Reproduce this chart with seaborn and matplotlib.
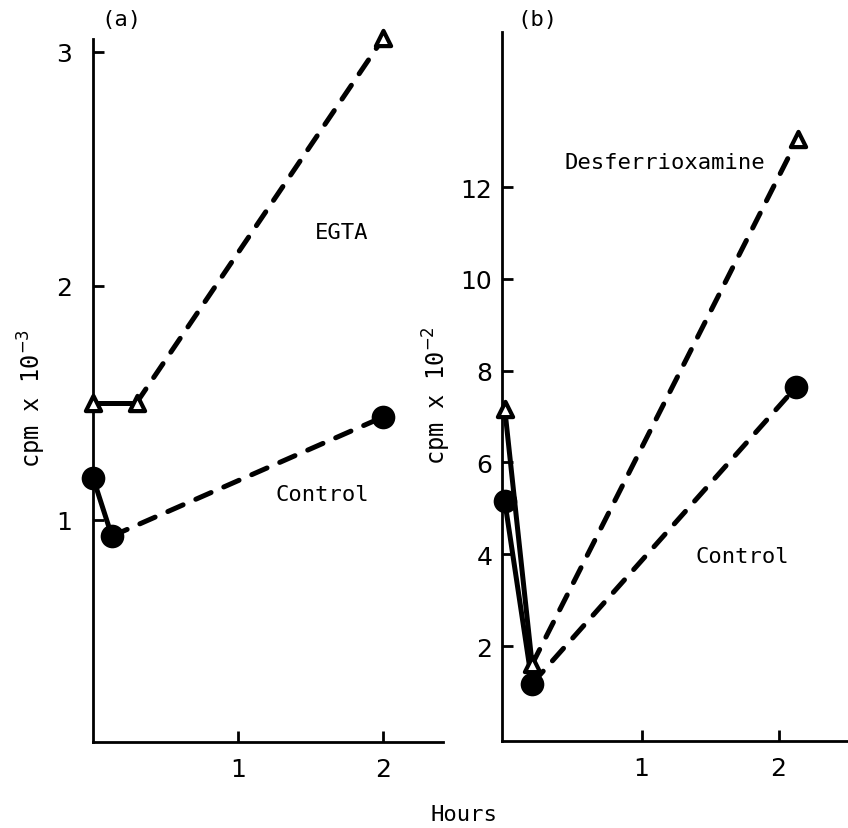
import numpy as np
import pandas as pd
import matplotlib
matplotlib.use("Agg")
import matplotlib.pyplot as plt
import seaborn as sns

# ---- data ----
hours_a_ctrl = [0.0, 0.13, 2.0]
cpm_a_ctrl = [1.18, 0.93, 1.44]
hours_a_egta = [0.0, 0.30, 2.0]
cpm_a_egta = [1.50, 1.50, 3.06]

hours_b_ctrl = [0.0, 0.20, 2.13]
cpm_b_ctrl = [5.16, 1.18, 7.65]
hours_b_des = [0.0, 0.20, 2.14]
cpm_b_des = [7.17, 1.60, 13.05]

yticks_a = [1, 2, 3]
yticks_b = [2, 4, 6, 8, 10, 12]
xticks = [1, 2]

sns.set_theme(style="white")
plt.rcParams['font.family'] = ['DejaVu Sans Mono']
plt.rcParams['text.color'] = 'black'
plt.rcParams['lines.scale_dashes'] = False
TICKFONT = ['DejaVu Sans']

fig = plt.figure(figsize=(8.48, 8.29), dpi=100)
W, H = 848, 829

def fr(x0, y0, x1, y1):
    return [x0 / W, 1 - y1 / H, (x1 - x0) / W, (y1 - y0) / H]

ax_a = fig.add_axes(fr(93, 40, 443, 743))
ax_b = fig.add_axes(fr(502, 33, 847, 742))

LW = 3.6
DASH = (12.0, 10.0)

def draw_series(ax, xs, ys, filled):
    df = pd.DataFrame({"h": xs, "c": ys})
    sns.lineplot(data=df.iloc[:2], x="h", y="c", ax=ax, color="black",
                 lw=LW, sort=False, estimator=None)
    ax.lines[-1].set_solid_capstyle('round')
    sns.lineplot(data=df.iloc[1:], x="h", y="c", ax=ax, color="black",
                 lw=LW, sort=False, estimator=None)
    ax.lines[-1].set_dashes(DASH)
    ax.lines[-1].set_dash_capstyle('round')
    if filled:
        sns.scatterplot(data=df, x="h", y="c", ax=ax, marker="o", s=290,
                        color="black", edgecolor="black", linewidth=0,
                        zorder=5, clip_on=False)
    else:
        sns.scatterplot(data=df, x="h", y="c", ax=ax, marker="^", s=120,
                        facecolor="white", edgecolor="black", linewidth=3.0,
                        zorder=5, clip_on=False)

draw_series(ax_a, hours_a_egta, cpm_a_egta, False)
draw_series(ax_a, hours_a_ctrl, cpm_a_ctrl, True)
draw_series(ax_b, hours_b_des, cpm_b_des, False)
draw_series(ax_b, hours_b_ctrl, cpm_b_ctrl, True)

for ax in (ax_a, ax_b):
    for l in ax.lines:
        l.set_clip_on(False)
    sns.despine(ax=ax)
    for side in ('left', 'bottom'):
        ax.spines[side].set_linewidth(2.0)
        ax.spines[side].set_color('black')
    ax.set_xlabel("")
    ax.set_ylabel("")
    ax.set_facecolor("none")
    ax.set_xticks(xticks)
    ax.set_xticklabels([str(t) for t in xticks], family=TICKFONT, fontsize=18)
    ax.tick_params(axis='both', direction='in', length=8, width=2.0,
                   colors='black', labelcolor='black', left=True, bottom=True)
    ax.tick_params(axis='x', pad=11)

ax_a.set_xlim(0, 2.41)
ax_a.set_ylim(0.05, 3.055)
ax_a.set_yticks(yticks_a)
ax_a.set_yticklabels([str(t) for t in yticks_a], family=TICKFONT, fontsize=18)
ax_a.tick_params(axis='y', pad=15)

ax_b.set_xlim(-0.02, 2.5)
ax_b.set_ylim(-0.07, 15.38)
ax_b.set_yticks(yticks_b)
ax_b.set_yticklabels([str(t) for t in yticks_b], family=TICKFONT, fontsize=18)
ax_b.tick_params(axis='y', pad=7)

def ftext(x, y, s, size=16, **kw):
    fig.text(x / W, 1 - y / H, s, ha='center', va='center', fontsize=size,
             color='black', **kw)

ftext(121, 20, "(a)")
ftext(537, 20, "(b)")
ftext(342, 233, "EGTA")
ftext(322, 495, "Control")
ftext(665, 163, "Desferrioxamine")
ftext(742, 557, "Control")
ftext(464, 815, "Hours")
ftext(32, 398, r"cpm x 10$^{-3}$", size=17, rotation=90)
ftext(437, 396, r"cpm x 10$^{-2}$", size=17, rotation=90)

fig.savefig("out.png", dpi=100)
